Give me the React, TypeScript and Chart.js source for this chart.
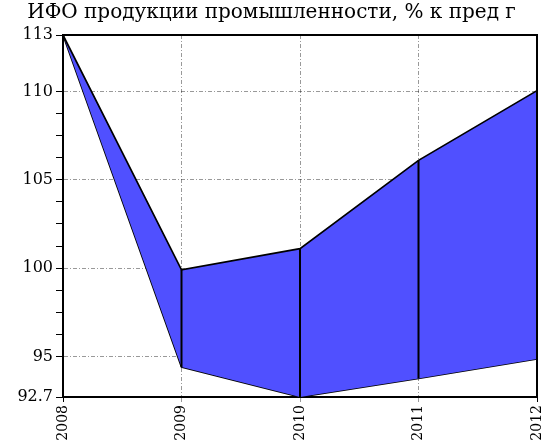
import React, { useEffect, useRef } from "react";
import { Chart, registerables } from "chart.js";

Chart.register(...registerables);

const titleText = "ИФО продукции промышленности, % к пред г";
const years = ["2008", "2009", "2010", "2011", "2012"];
const upperValues = [113.2, 99.9, 101.1, 106.1, 110.05];
const lowerValues = [113.2, 94.4, 92.7, 93.75, 94.85];
const yMajorTicks = [92.7, 95, 100, 105, 110, 113.2];
const yMinorTicks = [96.25, 97.5, 98.75, 101.25, 102.5, 103.75, 106.25, 107.5, 108.75];

const FILL = "#5050FF";
const GRID = "rgba(0,0,0,0.4)";
const DASH = [4, 2, 1, 2];

const framePlugin = {
  id: "frame",
  afterDraw(chart: any) {
    const { ctx, chartArea: a, scales } = chart;
    ctx.save();
    ctx.strokeStyle = "#000";
    ctx.lineWidth = 2;
    ctx.setLineDash([]);
    years.forEach((_, i) => {
      if (i === 0 || i === years.length - 1) return;
      const x = scales.x.getPixelForValue(i);
      ctx.beginPath();
      ctx.moveTo(x, scales.y.getPixelForValue(lowerValues[i]));
      ctx.lineTo(x, scales.y.getPixelForValue(upperValues[i]));
      ctx.stroke();
    });
    ctx.beginPath();
    ctx.moveTo(a.left, a.top);
    ctx.lineTo(a.right, a.top);
    ctx.lineTo(a.right, a.bottom);
    ctx.stroke();
    ctx.restore();
  },
};

export default function App() {
  const ref = useRef<HTMLCanvasElement | null>(null);
  useEffect(() => {
    if (!ref.current) return;
    Chart.defaults.font.family = "'DejaVu Serif', serif";
    Chart.defaults.color = "#000";
    const chart = new Chart(ref.current, {
      type: "line",
      data: {
        labels: years,
        datasets: [
          {
            label: "upper",
            data: upperValues,
            borderColor: "#000",
            borderWidth: 1.7,
            backgroundColor: FILL,
            fill: "+1",
            pointRadius: 0,
            tension: 0,
          },
          {
            label: "lower",
            data: lowerValues,
            borderColor: "#000",
            borderWidth: 1.7,
            fill: false,
            pointRadius: 0,
            tension: 0,
          },
        ],
      },
      options: {
        responsive: false,
        animation: false,
        layout: { padding: { left: 0, right: 0, top: 0, bottom: 0 } },
        plugins: {
          legend: { display: false },
          tooltip: { enabled: false },
          title: {
            display: true,
            text: titleText,
            color: "#000",
            font: { size: 20, weight: "normal", family: "'DejaVu Serif', serif" },
            padding: { top: 1, bottom: 10 },
          },
        },
        scales: {
          x: {
            type: "category",
            offset: false,
            z: 1,
            grid: {
              offset: false,
              color: (c: any) =>
                c.index === 0 || c.index === years.length - 1 ? "rgba(0,0,0,0)" : GRID,
              tickColor: (c: any) =>
                c.index === 0 || c.index === years.length - 1 ? "#000" : GRID,
              tickLength: 5,
              tickBorderDash: DASH,
              lineWidth: 1,
            },
            border: { display: true, color: "#000", width: 2, dash: DASH },
            ticks: {
              autoSkip: false,
              maxRotation: 90,
              minRotation: 90,
              padding: 3,
              color: "#000",
              font: { size: 14, family: "'DejaVu Serif', serif" },
            },
            afterFit: (s: any) => {
              s.height = 48;
              s.paddingRight = 6;
              s.paddingLeft = 0;
            },
          },
          y: {
            type: "linear",
            min: 92.7,
            max: 113.2,
            z: 1,
            afterBuildTicks: (s: any) => {
              const all = [...yMajorTicks, ...yMinorTicks].sort((a, b) => a - b);
              s.ticks = all.map((v) => ({ value: v }));
            },
            grid: {
              color: (c: any) => {
                const v = c.tick ? c.tick.value : 0;
                if (v === 92.7 || v === 113.2) return "rgba(0,0,0,0)";
                return yMajorTicks.includes(v) ? GRID : "rgba(0,0,0,0)";
              },
              tickColor: "#000",
              tickLength: 7,
              lineWidth: 1,
            },
            border: { display: true, color: "#000", width: 2, dash: DASH },
            ticks: {
              autoSkip: false,
              padding: 3,
              color: "#000",
              font: { size: 16, family: "'DejaVu Serif', serif" },
              callback: (v: any) => {
                const n = Number(v);
                if (!yMajorTicks.includes(n)) return "";
                return n === 92.7 ? "92.7" : String(Math.round(n));
              },
            },
            afterFit: (s: any) => {
              s.width = 63;
            },
          },
        },
      },
      plugins: [framePlugin],
    } as any);
    return () => chart.destroy();
  }, []);
  return (
    <div style={{ position: "fixed", left: 0, top: 0, width: 543, height: 445, background: "#fff" }}>
      <canvas ref={ref} width={543} height={445} style={{ display: "block" }} />
    </div>
  );
}
